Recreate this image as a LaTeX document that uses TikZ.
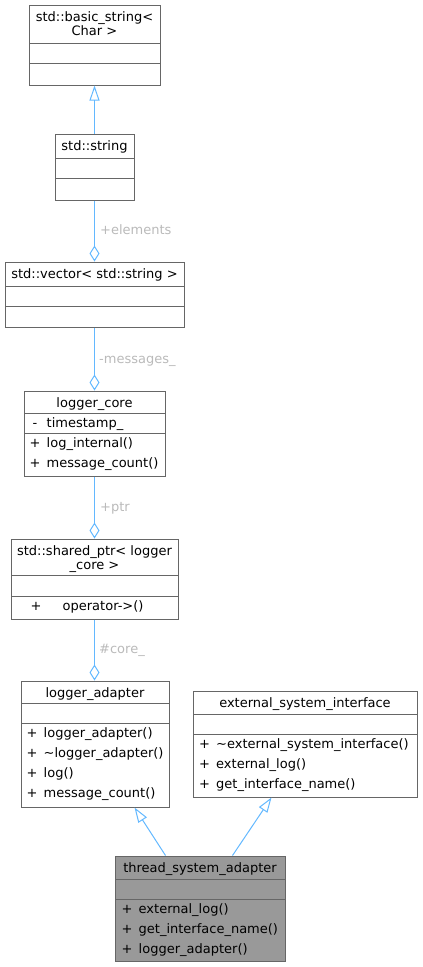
\documentclass[tikz,border=0pt]{standalone}
\usepackage{fontspec}
\setmainfont{DejaVu Sans}
\usetikzlibrary{arrows.meta,fit,calc}
\definecolor{edgeblue}{HTML}{63B8FF}
\definecolor{bord}{HTML}{666666}
\definecolor{lblgray}{HTML}{BABABA}
\definecolor{darkfill}{HTML}{999999}
\begin{document}
\begin{tikzpicture}[x=1pt,y=-1pt,
  font=\fontsize{13}{15}\selectfont,
  clsbox/.style={draw=bord, line width=1pt, inner sep=0pt, fill=white},
  divline/.style={draw=bord, line width=1pt},
  ttl/.style={inner sep=0pt, anchor=base, text=black},
  mem/.style={inner sep=0pt, anchor=base west, text=black},
  lbl/.style={inner sep=0pt, anchor=base west, text=lblgray},
  inh/.style={draw=edgeblue, line width=1pt, -{Triangle[open, length=15pt, width=10pt]}},
  agg/.style={draw=edgeblue, line width=1pt, -{Diamond[open, length=16pt, width=10pt]}}]
\useasboundingbox (0,0) rectangle (423,967);

% std::basic_string<Char>
\node[clsbox, fit={(29,5) (160,85)}] (bs) {};
\draw[divline] (29,43) -- (160,43);
\draw[divline] (29,63) -- (160,63);
\node[ttl] (bst1) at (94.5,21) {std::basic\_string<};
\node[ttl] (bst2) at (94.5,35) {Char >};

% std::string
\node[clsbox, fit={(55,134) (134,200)}] (str) {};
\draw[divline] (55,158) -- (134,158);
\draw[divline] (55,178) -- (134,178);
\node[ttl] (strt) at (94.5,150) {std::string};

% std::vector
\node[clsbox, fit={(5,262) (184,327)}] (vec) {};
\draw[divline] (5,286) -- (184,286);
\draw[divline] (5,306) -- (184,306);
\node[ttl] (vect) at (94.5,278) {std::vector< std::string >};

% logger_core
\node[clsbox, fit={(24,391) (165,476)}] (core) {};
\draw[divline] (24,413) -- (165,413);
\draw[divline] (24,433) -- (165,433);
\node[ttl] (coret) at (94.5,407) {logger\_core};
\node[mem] (corem1s) at (32.5,427) {-};
\node[mem] (corem1) at (46.5,427) {timestamp\_};
\node[mem] (corem2s) at (29.5,447) {+};
\node[mem] (corem2) at (46.5,447) {log\_internal()};
\node[mem] (corem3s) at (29.5,467) {+};
\node[mem] (corem3) at (46.5,467) {message\_count()};

% std::shared_ptr
\node[clsbox, fit={(11,539) (178,619)}] (shp) {};
\draw[divline] (11,575) -- (178,575);
\draw[divline] (11,596) -- (178,596);
\node[ttl] (shpt1) at (94.5,555) {std::shared\_ptr< logger};
\node[ttl] (shpt2) at (94.5,569) {\_core >};
\node[mem] (shpm1s) at (30.5,610) {+};
\node[mem] (shpm1) at (62.5,610) {operator->()};

% logger_adapter
\node[clsbox, fit={(21,681) (169,807)}] (la) {};
\draw[divline] (21,703) -- (169,703);
\draw[divline] (21,723) -- (169,723);
\node[ttl] (lat) at (95,697) {logger\_adapter};
\node[mem] (lam1s) at (26.5,737) {+};
\node[mem] (lam1) at (43.5,737) {logger\_adapter()};
\node[mem] (lam2s) at (26.5,757) {+};
\node[mem] (lam2) at (43.5,757) {\textasciitilde logger\_adapter()};
\node[mem] (lam3s) at (26.5,777) {+};
\node[mem] (lam3) at (43.5,777) {log()};
\node[mem] (lam4s) at (26.5,797) {+};
\node[mem] (lam4) at (43.5,797) {message\_count()};

% external_system_interface
\node[clsbox, fit={(193,691) (417,797)}] (esi) {};
\draw[divline] (193,714) -- (417,714);
\draw[divline] (193,734) -- (417,734);
\node[ttl] (esit) at (305,707) {external\_system\_interface};
\node[mem] (esim1s) at (199,748) {+};
\node[mem] (esim1) at (216,748) {\textasciitilde external\_system\_interface()};
\node[mem] (esim2s) at (199,768) {+};
\node[mem] (esim2) at (216,768) {external\_log()};
\node[mem] (esim3s) at (199,788) {+};
\node[mem] (esim3) at (216,788) {get\_interface\_name()};

% thread_system_adapter
\node[clsbox, fill=darkfill, fit={(115,856) (285,961)}] (thr) {};
\draw[divline] (115,879) -- (285,879);
\draw[divline] (115,899) -- (285,899);
\node[ttl] (thrt) at (200,872) {thread\_system\_adapter};
\node[mem] (thrm1s) at (121.5,913) {+};
\node[mem] (thrm1) at (138.5,913) {external\_log()};
\node[mem] (thrm2s) at (121.5,933) {+};
\node[mem] (thrm2) at (138.5,933) {get\_interface\_name()};
\node[mem] (thrm3s) at (121.5,953) {+};
\node[mem] (thrm3) at (138.5,953) {logger\_adapter()};

% connectors
\draw[inh] (str.north) -- (bs.south);
\draw[agg] (str.south) -- (vec.north);
\node[lbl] (l1) at (100,234) {+elements};
\draw[agg] (vec.south) -- (core.north);
\node[lbl] (l2) at (99,363) {-messages\_};
\draw[agg] (core.south) -- (shp.north);
\node[lbl] (l3) at (100,511) {+ptr};
\draw[agg] (shp.south) -- (shp.south |- la.north);
\node[lbl] (l4) at (99,653) {\#core\_};
\draw[inh] ([xshift=51pt]thr.north west) -- ([xshift=114pt]la.south west);
\draw[inh] ([xshift=118pt]thr.north west) -- ([xshift=79pt]esi.south west);
\end{tikzpicture}
\end{document}
